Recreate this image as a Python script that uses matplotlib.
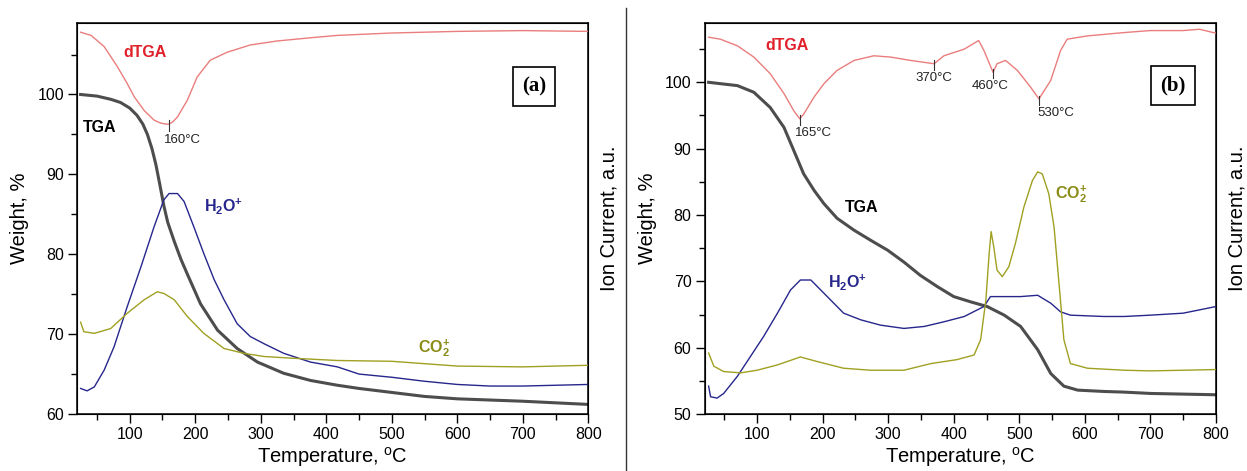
import numpy as np
import matplotlib
matplotlib.use('Agg')
import matplotlib.pyplot as plt
from matplotlib.lines import Line2D
from matplotlib.ticker import MultipleLocator

plt.rcParams['font.family'] = ['Liberation Sans', 'DejaVu Sans']
plt.rcParams['mathtext.fontset'] = 'custom'
plt.rcParams['mathtext.rm'] = 'Liberation Sans'
plt.rcParams['mathtext.bf'] = 'Liberation Sans:bold'

# ---- panel (a) data (values on the weight scale) ----
a_tga_T = [25, 50, 71, 86, 100, 111, 120, 127, 134, 140, 146, 152, 158, 168, 178, 188, 208, 234, 264, 295,
           335, 376, 417, 450, 500, 550, 600, 700, 800]
a_tga = [100, 99.8, 99.4, 99.0, 98.3, 97.4, 96.3, 95.0, 93.2, 91.2, 88.7, 86.1, 84.0, 81.6, 79.4, 77.5, 73.8, 70.5, 68.2, 66.5,
         65.1, 64.2, 63.6, 63.2, 62.7, 62.2, 61.9, 61.6, 61.2]

a_dtga_T = [25, 41, 61, 81, 96, 107, 122, 137, 148, 155, 160, 166, 173, 188, 203, 223, 249, 284, 325, 376,
            417, 500, 600, 700, 800]
a_dtga = [107.8, 107.4, 106.0, 103.5, 101.4, 99.7, 98.0, 96.8, 96.4, 96.3, 96.3, 96.6, 97.2, 99.3, 102.2, 104.3, 105.3, 106.2, 106.7, 107.1,
          107.4, 107.7, 107.9, 108.0, 107.9]

a_h2o_T = [25, 35, 46, 61, 76, 96, 117, 137, 152, 160, 173, 183, 198, 213, 229, 244, 264, 284, 305, 335,
           376, 417, 450, 500, 550, 600, 650, 700, 800]
a_h2o = [63.2, 62.9, 63.4, 65.5, 68.4, 73.4, 78.4, 83.4, 86.8, 87.6, 87.6, 86.6, 83.4, 80.1, 76.8, 74.3, 71.3, 69.7, 68.8, 67.6,
         66.5, 65.9, 65.0, 64.6, 64.1, 63.7, 63.5, 63.5, 63.7]

a_co2_T = [25, 30, 46, 71, 96, 122, 142, 152, 168, 188, 213, 244, 274, 305, 345, 417, 500, 600, 700, 800]
a_co2 = [71.5, 70.3, 70.1, 70.7, 72.6, 74.3, 75.3, 75.1, 74.3, 72.2, 70.1, 68.2, 67.6, 67.2, 67.0, 66.7, 66.6, 66.0, 65.9, 66.1]

# ---- panel (b) data ----
b_tga_T = [26, 70, 95, 120, 141, 156, 171, 187, 202, 222, 248, 273, 299, 324, 349, 375, 400, 426, 451, 477,
           502, 528, 548, 568, 589, 629, 660, 700, 800]
b_tga = [100, 99.5, 98.5, 96.2, 93.2, 89.7, 86.2, 83.7, 81.7, 79.5, 77.7, 76.2, 74.7, 72.9, 70.9, 69.2, 67.7, 66.9, 66.2, 64.9,
         63.2, 59.7, 56.1, 54.2, 53.6, 53.4, 53.3, 53.1, 52.9]

b_dtga_T = [26, 44, 70, 95, 120, 141, 156, 165, 171, 187, 202, 222, 248, 278, 304, 334, 370, 385, 416, 438,
            446, 460, 466, 479, 497, 517, 530, 548, 563, 573, 604, 660, 700, 750, 775, 800]
b_dtga = [106.8, 106.5, 105.5, 103.8, 101.3, 98.3, 95.7, 94.5, 95.2, 97.8, 99.8, 101.8, 103.3, 104.0, 103.8, 103.3, 102.8, 104.0, 105.0, 106.3,
          104.8, 101.5, 102.8, 103.3, 101.8, 99.3, 97.5, 100.3, 104.8, 106.5, 107.0, 107.5, 107.8, 107.8, 108.0, 107.4]

b_h2o_T = [26, 29, 39, 49, 70, 90, 110, 131, 151, 166, 182, 197, 212, 232, 258, 288, 324, 355, 385, 416,
           446, 456, 477, 502, 528, 548, 563, 578, 629, 660, 700, 750, 800]
b_h2o = [54.2, 52.6, 52.4, 53.1, 55.7, 58.7, 61.7, 65.2, 68.7, 70.2, 70.2, 68.7, 67.2, 65.2, 64.2, 63.4, 62.9, 63.2, 63.9, 64.7,
         66.2, 67.7, 67.7, 67.7, 67.9, 66.7, 65.4, 64.9, 64.7, 64.7, 64.9, 65.2, 66.2]

b_co2_T = [26, 34, 49, 75, 100, 131, 166, 192, 232, 273, 324, 365, 405, 431, 441, 449, 454, 457, 461, 466,
           474, 484, 494, 507, 520, 528, 535, 545, 553, 561, 568, 578, 604, 660, 700, 800]
b_co2 = [59.2, 57.2, 56.4, 56.2, 56.6, 57.4, 58.6, 57.9, 56.9, 56.6, 56.6, 57.6, 58.2, 58.9, 61.2, 67.2, 74.2, 77.5, 75.2, 71.7,
         70.7, 72.2, 75.7, 81.2, 85.2, 86.5, 86.2, 83.2, 78.2, 69.2, 61.2, 57.6, 56.9, 56.6, 56.5, 56.7]

a_peaks = [160]
b_peaks = [165, 370, 460, 530]

c_tga = '#4d4d4d'
c_dtga = '#ea7d7d'
c_h2o = '#26268c'
c_co2 = '#a0a022'
axis_label = r'Temperature, $^\mathregular{o}$C'


def style(ax, ymin):
    ax.set_xlim(20, 800)
    ax.set_ylim(ymin, 109)
    ax.xaxis.set_major_locator(MultipleLocator(100))
    ax.xaxis.set_minor_locator(MultipleLocator(50))
    ax.yaxis.set_minor_locator(MultipleLocator(5))
    ax.set_yticks(np.arange(ymin, 101, 10))
    ax.tick_params(which='both', direction='out', top=False, right=False, labelsize=11.5, width=1)
    ax.tick_params(which='major', length=6.5, pad=3)
    ax.tick_params(which='minor', length=4)
    for s in ax.spines.values():
        s.set_linewidth(1.1)
    ax.set_xlabel(axis_label, fontsize=14.5, labelpad=2)
    ax.set_ylabel('Weight, %', fontsize=14.5, labelpad=6)


def mark_peak(ax, T, xs, ys, dx):
    v = np.interp(T, xs, ys)
    ax.plot([T, T], [v + 0.5, v - 0.9], color='#333333', lw=0.8)
    ax.text(T + dx, v - 1.2, f'{T}°C', fontsize=9.5, ha='center', va='top', color='#222222')


fig = plt.figure(figsize=(12.47, 4.71), dpi=100)
axa = fig.add_axes([0.062, 0.121, 0.4098, 0.831])
axb = fig.add_axes([0.5651, 0.121, 0.41, 0.831])

for ax, ymin in [(axa, 60), (axb, 50)]:
    style(ax, ymin)

# panel (a)
axa.plot(a_tga_T, a_tga, color=c_tga, lw=2.2)
ia = axa.twinx()
ia.set_ylim(60, 109)
ia.set_yticks([])
ia.set_ylabel('Ion Current, a.u.', fontsize=14.5, labelpad=8)
ia.plot(a_dtga_T, a_dtga, color=c_dtga, lw=1.0)
ia.plot(a_h2o_T, a_h2o, color=c_h2o, lw=1.0)
ia.plot(a_co2_T, a_co2, color=c_co2, lw=1.0)
mark_peak(ia, a_peaks[0], a_dtga_T, a_dtga, 21)
ia.text(91, 105.3, 'dTGA', color='#e0202a', fontsize=11.5, fontweight='bold', va='center')
ia.text(29, 95.9, 'TGA', color='black', fontsize=11.5, fontweight='bold', va='center')
ia.text(214, 86.0, r'H$_\mathbf{2}$O$^\mathbf{+}$', color=c_h2o, fontsize=11.5, fontweight='bold', va='center')
ia.text(540, 68.2, r'CO$_\mathbf{2}^\mathbf{+}$', color='#8b8b18', fontsize=11.5, fontweight='bold', va='center')
ia.text(717, 101, '(a)', family='Liberation Serif', fontsize=15, fontweight='bold', ha='center', va='center',
        bbox=dict(boxstyle='square,pad=0.45', fc='white', ec='black', lw=1.2))

# panel (b)
axb.plot(b_tga_T, b_tga, color=c_tga, lw=2.2)
ib = axb.twinx()
ib.set_ylim(50, 109)
ib.set_yticks([])
ib.set_ylabel('Ion Current, a.u.', fontsize=14.5, labelpad=8)
ib.plot(b_dtga_T, b_dtga, color=c_dtga, lw=1.0)
ib.plot(b_h2o_T, b_h2o, color=c_h2o, lw=1.0)
ib.plot(b_co2_T, b_co2, color=c_co2, lw=1.0)
for T, dx in zip(b_peaks, [21, -1, -5, 25]):
    mark_peak(ib, T, b_dtga_T, b_dtga, dx)
ib.text(113, 105.5, 'dTGA', color='#e0202a', fontsize=11.5, fontweight='bold', va='center')
ib.text(234, 81.2, 'TGA', color='black', fontsize=11.5, fontweight='bold', va='center')
ib.text(208, 69.9, r'H$_\mathbf{2}$O$^\mathbf{+}$', color=c_h2o, fontsize=11.5, fontweight='bold', va='center')
ib.text(555, 83.1, r'CO$_\mathbf{2}^\mathbf{+}$', color='#8b8b18', fontsize=11.5, fontweight='bold', va='center')
ib.text(734, 99.5, '(b)', family='Liberation Serif', fontsize=15, fontweight='bold', ha='center', va='center',
        bbox=dict(boxstyle='square,pad=0.45', fc='white', ec='black', lw=1.2))

# divider between panels
fig.add_artist(Line2D([0.5018, 0.5018], [0, 0.983], transform=fig.transFigure, color='#333333', lw=1))

fig.savefig('out.png', dpi=100)
